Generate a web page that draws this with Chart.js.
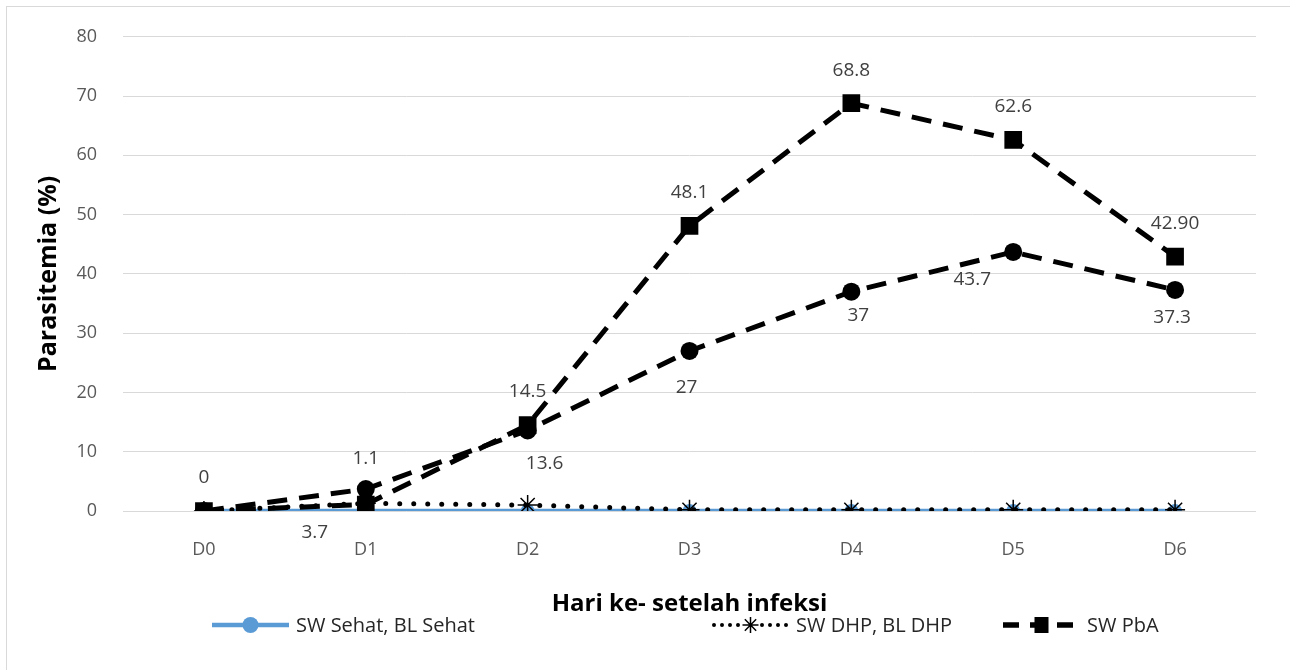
<!DOCTYPE html>
<html>
<head>
<meta charset="utf-8">
<script src="https://cdn.jsdelivr.net/npm/chart.js@4/dist/chart.umd.min.js"></script>
<style>
  body { margin: 0; background: #fff; overflow: hidden; }
  #wrap { position: relative; width: 1290px; height: 670px; }
</style>
</head>
<body>
<div id="wrap"><canvas id="chart"></canvas></div>
<script>
// data
const days = ['D0', 'D1', 'D2', 'D3', 'D4', 'D5', 'D6'];
const sehat = [0, 0, 0, 0, 0, 0, 0];
const dhp = [0, 1.3, 1.0, 0.2, 0.2, 0.2, 0.2];
const pba = [0, 1.1, 14.5, 48.1, 68.8, 62.6, 42.9];
const blPba = [0, 3.7, 13.6, 27, 37, 43.7, 37.3];
const pbaLabels = ['0', '1.1', '14.5', '48.1', '68.8', '62.6', '42.90'];
const blPbaLabels = [null, '3.7', '13.6', '27', '37', '43.7', '37.3'];
const yTicks = [0, 10, 20, 30, 40, 50, 60, 70, 80];

// label offsets (px) from each point, like the hand-placed labels in the original
const pbaLabelShift = [[0, -33], [0, -46], [0, -33], [0, -33], [0, -33], [0, -33], [0, -33]];
const blPbaLabelShift = [null, [-51, 44], [17, 33], [-3, 37], [7, 24], [-41, 28], [-3, 28]];

Chart.defaults.font.family = "'Open Sans', sans-serif";

const frame = {
  id: 'frame',
  beforeDraw(chart) {
    const ctx = chart.ctx;
    ctx.save();
    ctx.strokeStyle = '#d9d9d9';
    ctx.lineWidth = 1;
    ctx.strokeRect(6.5, 6.5, 2000, 2000);
    ctx.restore();
  }
};

const valueLabels = {
  id: 'valueLabels',
  afterDatasetsDraw(chart) {
    const ctx = chart.ctx;
    ctx.save();
    ctx.font = "19px 'Open Sans', sans-serif";
    ctx.fillStyle = '#404040';
    ctx.textAlign = 'center';
    ctx.textBaseline = 'middle';
    const sets = [[2, pbaLabels, pbaLabelShift], [3, blPbaLabels, blPbaLabelShift]];
    sets.forEach(([idx, texts, shifts]) => {
      const meta = chart.getDatasetMeta(idx);
      meta.data.forEach((pt, i) => {
        if (!texts[i]) return;
        ctx.fillText(texts[i], pt.x + shifts[i][0], pt.y + shifts[i][1]);
      });
    });
    ctx.restore();
  }
};

const legendItems = [
  { text: 'SW Sehat, BL Sehat', x: 212, kind: 'sehat' },
  { text: 'SW DHP, BL DHP', x: 712, kind: 'dhp' },
  { text: 'SW PbA', x: 1003, kind: 'pba' }
];

const lineLegend = {
  id: 'lineLegend',
  afterDraw(chart) {
    const ctx = chart.ctx;
    const y = 625;
    ctx.save();
    legendItems.forEach(item => {
      const x0 = item.x, x1 = item.x + 77, mid = item.x + 38.5;
      ctx.beginPath();
      if (item.kind === 'sehat') {
        ctx.strokeStyle = '#5b9bd5';
        ctx.lineWidth = 4.5;
        ctx.setLineDash([]);
        ctx.moveTo(x0, y); ctx.lineTo(x1, y); ctx.stroke();
        ctx.fillStyle = '#5b9bd5';
        ctx.beginPath(); ctx.arc(mid, y, 8, 0, Math.PI * 2); ctx.fill();
      } else if (item.kind === 'dhp') {
        ctx.strokeStyle = '#000';
        ctx.lineWidth = 4;
        ctx.lineCap = 'round';
        ctx.setLineDash([0, 8]);
        ctx.moveTo(x0 + 2, y); ctx.lineTo(x1, y); ctx.stroke();
        ctx.setLineDash([]);
        ctx.lineCap = 'butt';
        ctx.lineWidth = 1.5;
        ctx.fillStyle = '#fff';
        ctx.fillRect(mid - 7, y - 9, 14, 18);
        ctx.beginPath();
        for (let a = 0; a < 4; a++) {
          const t = a * Math.PI / 4;
          ctx.moveTo(mid - 8 * Math.cos(t), y - 8 * Math.sin(t));
          ctx.lineTo(mid + 8 * Math.cos(t), y + 8 * Math.sin(t));
        }
        ctx.stroke();
      } else {
        ctx.strokeStyle = '#000';
        ctx.lineWidth = 5.5;
        ctx.setLineDash([16, 11]);
        ctx.moveTo(x0, y); ctx.lineTo(x1, y); ctx.stroke();
        ctx.setLineDash([]);
        ctx.fillStyle = '#000';
        ctx.fillRect(mid - 7, y - 8, 14, 16);
      }
      ctx.font = "20px 'Open Sans', sans-serif";
      ctx.fillStyle = '#262626';
      ctx.textAlign = 'left';
      ctx.textBaseline = 'middle';
      ctx.fillText(item.text, x1 + 7, y + 1);
    });
    ctx.restore();
  }
};

new Chart(document.getElementById('chart'), {
  type: 'line',
  data: {
    labels: days,
    datasets: [
      {
        label: 'SW Sehat, BL Sehat',
        data: sehat,
        borderColor: '#5b9bd5',
        backgroundColor: '#5b9bd5',
        borderWidth: 4.5,
        pointStyle: 'circle',
        pointRadius: 7,
        pointBorderWidth: 0,
        order: 3
      },
      {
        label: 'SW DHP, BL DHP',
        data: dhp,
        borderColor: '#000',
        backgroundColor: '#000',
        borderWidth: 5,
        borderDash: [0, 14],
        borderCapStyle: 'round',
        pointStyle: 'star',
        pointRadius: 10,
        pointBorderWidth: 1.5,
        pointBorderColor: '#000',
        order: 2
      },
      {
        label: 'SW PbA',
        data: pba,
        borderColor: '#000',
        backgroundColor: '#000',
        borderWidth: 5,
        borderDash: [20, 12],
        pointStyle: 'rect',
        pointRadius: 12.5,
        pointBorderWidth: 0,
        order: 1
      },
      {
        label: 'BL PbA',
        data: blPba,
        borderColor: '#000',
        backgroundColor: '#000',
        borderWidth: 5,
        borderDash: [20, 12],
        pointStyle: 'circle',
        pointRadius: 9,
        pointBorderWidth: 0,
        order: 0
      }
    ]
  },
  options: {
    responsive: true,
    maintainAspectRatio: false,
    animation: false,
    layout: { padding: { top: 36, right: 34, bottom: 0, left: 0 } },
    plugins: {
      legend: { display: false },
      tooltip: { enabled: false }
    },
    scales: {
      x: {
        offset: true,
        grid: { display: false, drawTicks: false },
        border: { display: false },
        ticks: { color: '#595959', font: { size: 18 }, padding: 28 },
        title: {
          display: true,
          text: 'Hari ke- setelah infeksi',
          color: '#000',
          font: { size: 24, weight: 'bold' },
          padding: { top: 0, bottom: 51 }
        },
        afterFit(scale) { scale.height = 159; }
      },
      y: {
        min: 0,
        max: 80,
        afterBuildTicks(scale) { scale.ticks = yTicks.map(v => ({ value: v })); },
        grid: { color: '#d9d9d9', lineWidth: 1, drawTicks: false },
        border: { display: false },
        ticks: { color: '#595959', font: { size: 18 }, padding: 26 },
        title: {
          display: true,
          text: 'Parasitemia (%)',
          color: '#000',
          font: { size: 25, weight: 'bold' },
          padding: { top: 34 }
        },
        afterFit(scale) { scale.width = 123; }
      }
    }
  },
  plugins: [frame, valueLabels, lineLegend]
});
</script>
</body>
</html>
